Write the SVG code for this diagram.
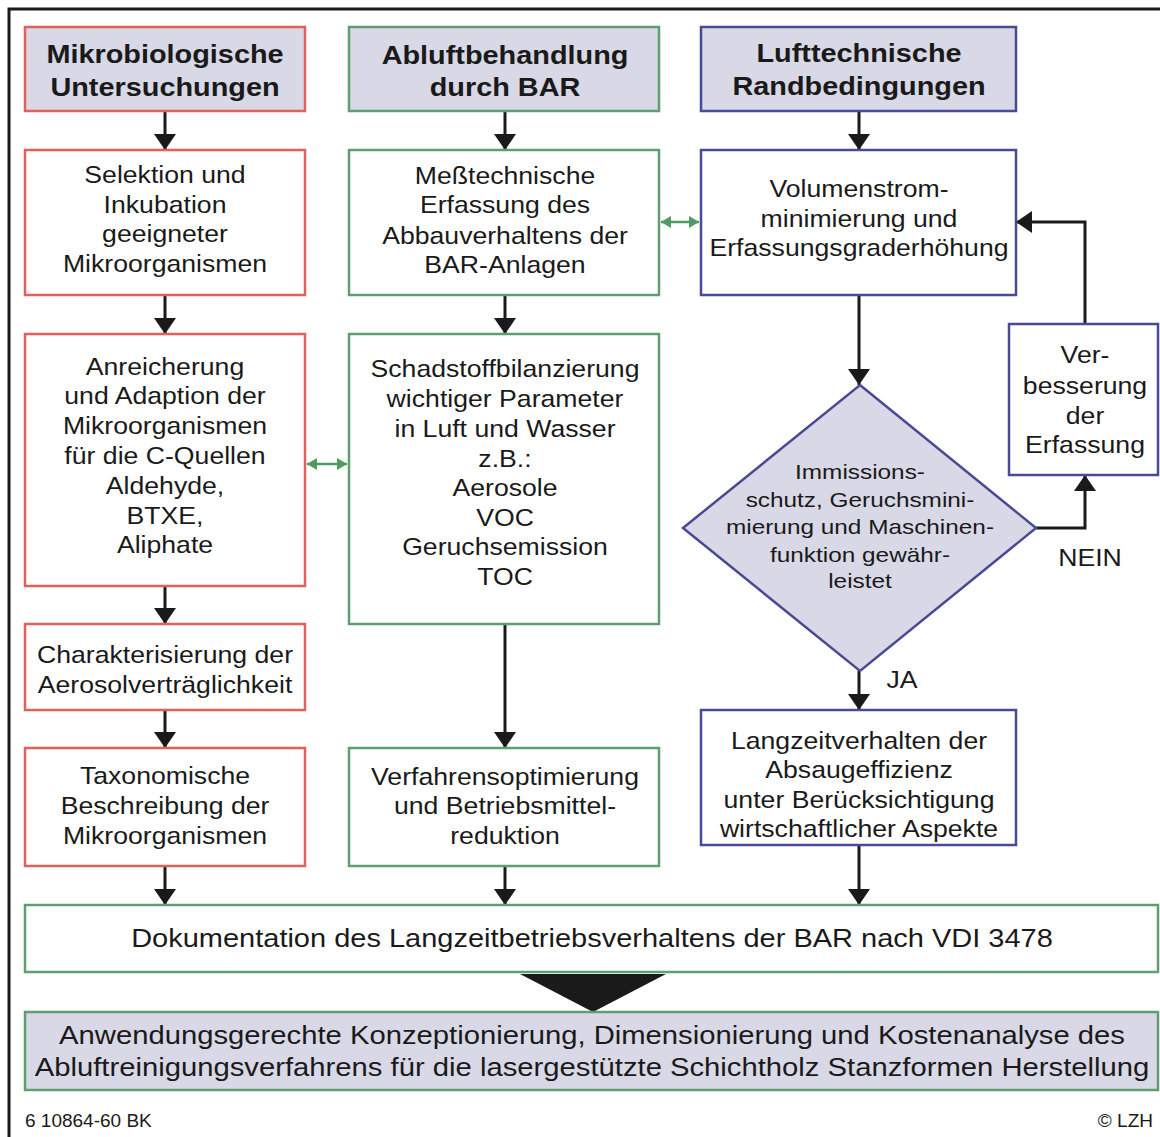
<svg xmlns="http://www.w3.org/2000/svg" width="1160" height="1137" viewBox="0 0 1160 1137">
<defs>
<style>
.t{font-family:"Liberation Sans",Arial,sans-serif;font-size:24px;fill:#1a1a1a;text-anchor:middle}
.h{font-family:"Liberation Sans",Arial,sans-serif;font-size:26px;font-weight:bold;fill:#1a1a1a;text-anchor:middle}
.d{font-family:"Liberation Sans",Arial,sans-serif;font-size:21px;fill:#1a1a1a;text-anchor:middle}
.red{stroke:#e0605c;stroke-width:2.5}
.grn{stroke:#5e9e72;stroke-width:2.5}
.blu{stroke:#4a4a94;stroke-width:2.5}
.hf{fill:#d9d8e6}
.wf{fill:#ffffff}
.c{stroke:#1a1a1a;stroke-width:3;fill:none;marker-end:url(#ah)}
.g{stroke:#4e9a62;stroke-width:2.5;fill:none;marker-start:url(#gh);marker-end:url(#gh)}
</style>
<marker id="ah" viewBox="0 0 16 22" refX="16" refY="11" markerWidth="16" markerHeight="22" markerUnits="userSpaceOnUse" orient="auto"><path d="M0,0 L16,11 L0,22 z" fill="#1a1a1a"/></marker>
<marker id="gh" viewBox="0 0 10 12" refX="10" refY="6" markerWidth="10" markerHeight="12" markerUnits="userSpaceOnUse" orient="auto-start-reverse"><path d="M0,0 L10,6 L0,12 z" fill="#4e9a62"/></marker>
</defs>
<rect width="1160" height="1137" fill="#ffffff"/>
<g id="frame" stroke="#1a1a1a" stroke-width="3" fill="none">
<path d="M9,1137 V9 H1160"/>
</g>
<g id="connectors">
<path class="c" d="M165,111 V150"/>
<path class="c" d="M165,295 V334"/>
<path class="c" d="M165,586 V624"/>
<path class="c" d="M165,710 V748"/>
<path class="c" d="M165,866 V905"/>
<path class="c" d="M505,111 V150"/>
<path class="c" d="M505,295 V334"/>
<path class="c" d="M505,624 V748"/>
<path class="c" d="M505,866 V905"/>
<path class="c" d="M859,111 V150"/>
<path class="c" d="M859,295 V385"/>
<path class="c" d="M859,671 V710"/>
<path class="c" d="M859,845 V905"/>
<path class="c" d="M1036,528 H1085 V475"/>
<path class="c" d="M1085,324 V222 H1016"/>
<path class="g" d="M307,464 H347"/>
<path class="g" d="M661,222 H699"/>
<polygon points="520,974 666,974 593,1012" fill="#1a1a1a"/>
</g>
<g id="n1"><rect class="red hf" x="25" y="27" width="280" height="84"/><g transform="translate(165 0) scale(1.11 1)"><text class="h" x="0" y="63">Mikrobiologische</text><text class="h" x="0" y="96">Untersuchungen</text></g></g>
<g id="n2"><rect class="red wf" x="25" y="150" width="280" height="145"/><g transform="translate(165 0) scale(1.11 1)"><text class="t" x="0" y="183">Selektion und</text><text class="t" x="0" y="213">Inkubation</text><text class="t" x="0" y="242">geeigneter</text><text class="t" x="0" y="272">Mikroorganismen</text></g></g>
<g id="n3"><rect class="red wf" x="25" y="334" width="280" height="252"/><g transform="translate(165 0) scale(1.11 1)"><text class="t" x="0" y="375">Anreicherung</text><text class="t" x="0" y="404">und Adaption der</text><text class="t" x="0" y="434">Mikroorganismen</text><text class="t" x="0" y="464">für die C-Quellen</text><text class="t" x="0" y="494">Aldehyde,</text><text class="t" x="0" y="524">BTXE,</text><text class="t" x="0" y="553">Aliphate</text></g></g>
<g id="n4"><rect class="red wf" x="25" y="624" width="280" height="86"/><g transform="translate(165 0) scale(1.11 1)"><text class="t" x="0" y="663">Charakterisierung der</text><text class="t" x="0" y="693">Aerosolverträglichkeit</text></g></g>
<g id="n5"><rect class="red wf" x="25" y="748" width="280" height="118"/><g transform="translate(165 0) scale(1.11 1)"><text class="t" x="0" y="784">Taxonomische</text><text class="t" x="0" y="814">Beschreibung der</text><text class="t" x="0" y="844">Mikroorganismen</text></g></g>
<g id="n6"><rect class="grn hf" x="349" y="27" width="310" height="84"/><g transform="translate(505 0) scale(1.11 1)"><text class="h" x="0" y="64">Abluftbehandlung</text><text class="h" x="0" y="96">durch BAR</text></g></g>
<g id="n7"><rect class="grn wf" x="349" y="150" width="310" height="145"/><g transform="translate(505 0) scale(1.11 1)"><text class="t" x="0" y="184">Meßtechnische</text><text class="t" x="0" y="213">Erfassung des</text><text class="t" x="0" y="244">Abbauverhaltens der</text><text class="t" x="0" y="273">BAR-Anlagen</text></g></g>
<g id="n8"><rect class="grn wf" x="349" y="334" width="310" height="290"/><g transform="translate(505 0) scale(1.11 1)"><text class="t" x="0" y="377">Schadstoffbilanzierung</text><text class="t" x="0" y="407">wichtiger Parameter</text><text class="t" x="0" y="437">in Luft und Wasser</text><text class="t" x="0" y="467">z.B.:</text><text class="t" x="0" y="496">Aerosole</text><text class="t" x="0" y="526">VOC</text><text class="t" x="0" y="555">Geruchsemission</text><text class="t" x="0" y="585">TOC</text></g></g>
<g id="n9"><rect class="grn wf" x="349" y="748" width="310" height="118"/><g transform="translate(505 0) scale(1.11 1)"><text class="t" x="0" y="785">Verfahrensoptimierung</text><text class="t" x="0" y="814">und Betriebsmittel-</text><text class="t" x="0" y="844">reduktion</text></g></g>
<g id="n10"><rect class="blu hf" x="701" y="27" width="315" height="84"/><g transform="translate(859 0) scale(1.11 1)"><text class="h" x="0" y="62">Lufttechnische</text><text class="h" x="0" y="95">Randbedingungen</text></g></g>
<g id="n11"><rect class="blu wf" x="701" y="150" width="315" height="145"/><g transform="translate(859 0) scale(1.11 1)"><text class="t" x="0" y="197">Volumenstrom-</text><text class="t" x="0" y="227">minimierung und</text><text class="t" x="0" y="256">Erfassungsgraderhöhung</text></g></g>
<g id="n12"><polygon class="blu hf" points="860,385 1036,528 860,671 683,528"/><g transform="translate(860 0) scale(1.16 1)"><text class="d" x="0" y="479">Immissions-</text><text class="d" x="0" y="507">schutz, Geruchsmini-</text><text class="d" x="0" y="534">mierung und Maschinen-</text><text class="d" x="0" y="562">funktion gewähr-</text><text class="d" x="0" y="588">leistet</text></g></g>
<g id="n13"><rect class="blu wf" x="1009" y="324" width="149" height="151"/><g transform="translate(1085 0) scale(1.11 1)"><text class="t" x="0" y="363">Ver-</text><text class="t" x="0" y="394">besserung</text><text class="t" x="0" y="424">der</text><text class="t" x="0" y="453">Erfassung</text></g></g>
<g id="n14"><rect class="blu wf" x="701" y="710" width="315" height="135"/><g transform="translate(859 0) scale(1.11 1)"><text class="t" x="0" y="749">Langzeitverhalten der</text><text class="t" x="0" y="778">Absaugeffizienz</text><text class="t" x="0" y="808">unter Berücksichtigung</text><text class="t" x="0" y="837">wirtschaftlicher Aspekte</text></g></g>
<g id="labels"><g transform="translate(902 0) scale(1.11 1)"><text class="t" x="0" y="688">JA</text></g><g transform="translate(1090 0) scale(1.11 1)"><text class="t" x="0" y="566">NEIN</text></g></g>
<g id="n15"><rect class="grn wf" x="25" y="905" width="1133" height="67"/><g transform="translate(592 0) scale(1.16 1)"><text class="t" x="0" y="947" style="font-size:25px">Dokumentation des Langzeitbetriebsverhaltens der BAR nach VDI 3478</text></g></g>
<g id="n16"><rect class="grn hf" x="25" y="1012" width="1133" height="78"/><g transform="translate(592 0) scale(1.17 1)"><text class="t" x="0" y="1044" style="font-size:25px">Anwendungsgerechte Konzeptionierung, Dimensionierung und Kostenanalyse des</text><text class="t" x="0" y="1076" style="font-size:25px">Abluftreinigungsverfahrens für die lasergestützte Schichtholz Stanzformen Herstellung</text></g></g>
<g id="footer"><text class="t" x="25" y="1127" style="font-size:19px;text-anchor:start">6 10864-60 BK</text><text class="t" x="1153" y="1127" style="font-size:19px;text-anchor:end">© LZH</text></g>
</svg>
